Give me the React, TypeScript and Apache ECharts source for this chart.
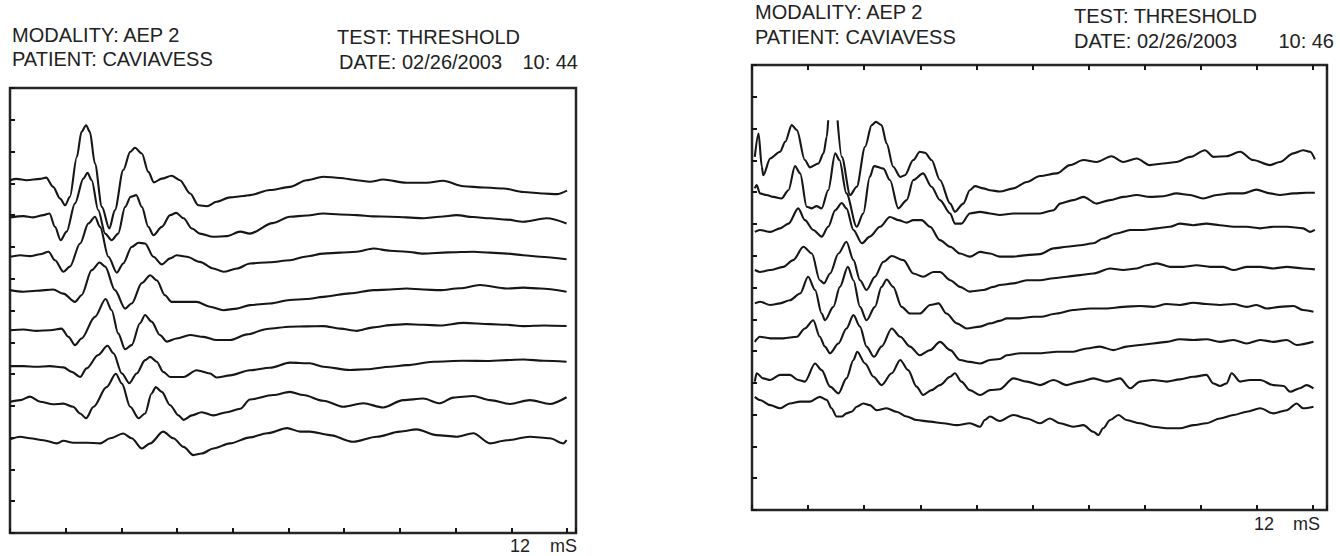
import React, { useEffect, useRef } from "react";
import * as echarts from "echarts";

// ---- header texts ----
const MODALITY = "MODALITY: AEP 2";
const PATIENT = "PATIENT: CAVIAVESS";
const TEST = "TEST: THRESHOLD";
const DATE = "DATE: 02/26/2003";
const TIME_LEFT = "10: 44";
const TIME_RIGHT = "10: 46";
const AXIS_END = "12";
const AXIS_UNIT = "mS";

// ---- left panel traces (x: ms, y: display units) ----
const L1 = [[0,11.10],[0.14,11.14],[0.36,11.10],[0.65,11.14],[0.78,11.18],[0.93,10.89],[1.08,10.52],[1.19,10.31],[1.29,10.58],[1.44,11.83],[1.54,12.62],[1.64,12.83],[1.72,12.62],[1.83,11.62],[1.98,10.26],[2.14,9.58],[2.26,10.16],[2.44,11.42],[2.59,11.99],[2.69,12.12],[2.84,11.94],[2.98,11.36],[3.10,11.03],[3.27,11.15],[3.48,11.24],[3.66,11.10],[3.88,10.68],[4.06,10.31],[4.24,10.28],[4.45,10.42],[4.74,10.56],[5.03,10.60],[5.17,10.63],[5.6,10.79],[6.03,10.89],[6.39,11.10],[6.75,11.21],[7.11,11.17],[7.47,11.10],[7.75,11.05],[8.04,11.12],[8.54,11.02],[8.98,11.02],[9.33,11.08],[9.77,10.91],[10.20,10.87],[10.63,10.84],[11.06,10.73],[11.49,10.68],[11.78,10.66],[12.0,10.77]];
const L2 = [[0,9.93],[0.29,9.97],[0.50,9.93],[0.72,10.0],[0.85,10.05],[0.97,9.63],[1.09,9.21],[1.22,9.48],[1.40,10.37],[1.58,11.15],[1.67,11.33],[1.76,11.10],[1.90,10.16],[2.05,9.42],[2.19,9.21],[2.33,9.42],[2.48,10.26],[2.60,10.58],[2.72,10.63],[2.84,10.26],[2.98,9.63],[3.09,9.37],[3.27,9.63],[3.45,10.0],[3.58,10.07],[3.74,9.90],[3.92,9.58],[4.09,9.42],[4.38,9.32],[4.67,9.34],[4.96,9.48],[5.17,9.42],[5.66,9.75],[6.03,9.95],[6.39,9.99],[6.75,10.05],[7.11,10.02],[7.47,10.0],[7.83,9.96],[8.19,9.95],[8.54,9.93],[8.90,9.90],[9.26,9.95],[9.62,10.0],[9.98,9.94],[10.34,9.90],[10.70,9.86],[11.06,9.79],[11.56,9.90],[11.99,9.74]];
const L3 = [[0,8.69],[0.22,8.74],[0.43,8.71],[0.65,8.77],[0.83,8.85],[0.97,8.58],[1.15,8.22],[1.29,8.38],[1.51,9.11],[1.69,9.74],[1.83,9.95],[1.94,9.63],[2.12,8.69],[2.30,8.19],[2.44,8.48],[2.62,9.00],[2.77,9.13],[2.91,9.11],[3.09,8.69],[3.27,8.45],[3.45,8.64],[3.59,8.74],[3.81,8.69],[4.09,8.53],[4.38,8.32],[4.60,8.22],[4.89,8.32],[5.17,8.48],[5.6,8.52],[6.03,8.58],[6.39,8.70],[6.75,8.79],[7.11,8.82],[7.47,8.85],[7.83,8.95],[8.19,8.88],[8.54,8.85],[8.90,8.79],[9.44,8.83],[9.98,8.85],[10.34,8.82],[10.70,8.79],[11.06,8.74],[11.42,8.69],[11.99,8.61]];
const L4 = [[0,7.64],[0.29,7.59],[0.57,7.62],[0.93,7.66],[1.15,7.53],[1.40,7.27],[1.54,7.48],[1.76,8.27],[1.93,8.51],[2.05,8.38],[2.26,7.64],[2.48,7.06],[2.62,7.22],[2.84,7.86],[3.02,8.11],[3.16,7.95],[3.34,7.48],[3.48,7.27],[3.74,7.27],[4.02,7.27],[4.31,7.12],[4.60,7.01],[4.89,7.06],[5.17,7.17],[5.6,7.22],[6.03,7.33],[6.39,7.36],[6.75,7.43],[7.32,7.54],[7.83,7.64],[8.19,7.66],[8.54,7.69],[8.90,7.66],[9.26,7.64],[9.69,7.70],[10.12,7.80],[10.70,7.69],[11.06,7.72],[11.42,7.69],[11.99,7.59]];
const L5 = [[0,6.38],[0.29,6.40],[0.57,6.36],[0.86,6.38],[1.11,6.43],[1.26,6.17],[1.40,5.91],[1.54,6.12],[1.83,6.80],[2.06,7.36],[2.19,7.01],[2.33,6.28],[2.48,5.78],[2.62,5.91],[2.80,6.60],[2.91,6.86],[3.05,6.65],[3.23,6.23],[3.38,6.02],[3.59,6.12],[3.88,6.23],[4.17,6.17],[4.45,6.07],[4.74,6.07],[5.11,6.25],[5.54,6.42],[6.03,6.49],[6.39,6.50],[6.75,6.51],[7.11,6.43],[7.47,6.36],[7.83,6.47],[8.19,6.54],[8.54,6.57],[8.90,6.55],[9.26,6.53],[9.77,6.61],[10.34,6.57],[10.70,6.55],[11.06,6.51],[11.50,6.53],[11.99,6.51]];
const L6 = [[0,5.25],[0.29,5.25],[0.57,5.23],[0.86,5.25],[1.15,5.21],[1.33,5.07],[1.51,4.91],[1.65,5.18],[1.90,5.60],[2.10,5.89],[2.23,5.65],[2.41,5.02],[2.57,4.71],[2.73,5.02],[2.91,5.44],[3.02,5.54],[3.16,5.39],[3.30,5.07],[3.45,4.91],[3.74,4.91],[4.02,5.12],[4.31,5.02],[4.45,4.89],[4.74,4.96],[5.17,5.12],[5.6,5.2],[6.03,5.36],[6.46,5.34],[6.75,5.23],[7.32,5.13],[7.68,5.15],[8.19,5.23],[8.54,5.28],[9.12,5.39],[9.77,5.42],[10.34,5.41],[10.70,5.44],[11.06,5.46],[11.50,5.42],[11.99,5.39]];
const L7 = [[0,4.13],[0.22,4.18],[0.43,4.29],[0.65,4.13],[0.93,4.05],[1.15,4.07],[1.36,3.97],[1.51,3.76],[1.64,3.61],[1.80,3.97],[2.08,4.59],[2.28,5.01],[2.41,4.70],[2.59,3.97],[2.77,3.61],[2.91,3.76],[3.05,4.39],[3.14,4.59],[3.27,4.44],[3.45,4.02],[3.63,3.70],[3.74,3.56],[3.92,3.70],[4.13,3.80],[4.38,3.70],[4.67,3.80],[4.96,3.91],[5.17,4.2],[5.67,4.34],[6.03,4.44],[6.32,4.34],[6.75,4.16],[7.18,3.97],[7.61,4.08],[8.04,3.95],[8.47,4.18],[8.90,4.23],[9.26,4.08],[9.55,4.26],[9.98,4.31],[10.34,4.18],[10.77,4.06],[11.20,4.18],[11.63,4.06],[11.99,4.27]];
const L8 = [[0,2.95],[0.22,3.03],[0.43,2.98],[0.72,2.92],[1.01,2.82],[1.15,2.90],[1.36,2.84],[1.65,2.84],[1.94,2.82],[2.16,2.98],[2.44,3.13],[2.62,2.98],[2.84,2.66],[3.02,2.82],[3.30,3.19],[3.52,2.98],[3.74,2.71],[3.95,2.45],[4.13,2.50],[4.38,2.66],[4.74,2.82],[5.17,3.01],[5.54,3.14],[5.97,3.30],[6.25,3.19],[6.46,3.19],[6.89,3.08],[7.39,2.87],[7.90,3.03],[8.40,3.19],[8.76,3.26],[9.19,3.08],[9.62,3.03],[9.98,3.14],[10.34,2.82],[10.70,2.92],[11.20,3.03],[11.63,2.98],[11.92,2.82],[11.99,2.92]];

// ---- right panel traces ----
const R1 = [[0.06,11.11],[0.14,11.84],[0.21,10.80],[0.24,10.53],[0.39,11.06],[0.60,11.27],[0.71,11.58],[0.85,12.11],[0.96,11.95],[1.13,11.01],[1.24,10.78],[1.42,10.90],[1.53,11.22],[1.60,11.74],[1.63,12.26],[1.73,"-"],[1.83,12.26],[1.92,11.11],[2.10,9.91],[2.24,10.17],[2.42,11.43],[2.56,12.11],[2.65,12.21],[2.77,12.11],[2.88,11.53],[3.02,10.80],[3.17,10.48],[3.27,10.53],[3.45,11.01],[3.59,11.27],[3.70,11.24],[3.84,11.01],[4.02,10.38],[4.24,9.64],[4.34,9.38],[4.52,9.64],[4.66,10.06],[4.77,10.19],[4.95,10.12],[5.09,10.06],[5.30,10.02],[5.59,10.12],[5.88,10.32],[6.16,10.51],[6.52,10.59],[6.80,10.85],[7.09,11.01],[7.37,10.95],[7.69,11.13],[7.94,10.95],[8.23,11.06],[8.51,10.85],[8.80,10.90],[9.08,10.95],[9.37,11.11],[9.69,11.32],[9.87,11.11],[10.15,11.13],[10.44,11.27],[10.72,11.01],[11.08,10.85],[11.29,10.95],[11.58,11.22],[11.79,11.32],[11.94,11.27],[12.04,11.03]];
const R2 = [[0.06,10.12],[0.10,10.22],[0.17,9.96],[0.31,9.91],[0.46,9.85],[0.63,9.80],[0.78,10.06],[0.92,10.82],[1.03,10.59],[1.17,9.54],[1.28,9.49],[1.38,9.56],[1.49,9.49],[1.63,10.06],[1.78,11.22],[1.87,11.01],[2.02,9.96],[2.24,8.91],[2.38,9.33],[2.52,10.48],[2.61,10.82],[2.81,10.74],[2.95,10.38],[3.13,9.49],[3.31,9.75],[3.45,10.38],[3.66,10.59],[3.84,10.17],[4.02,9.75],[4.24,9.33],[4.34,9.01],[4.48,9.01],[4.66,9.33],[4.88,9.38],[5.09,9.33],[5.30,9.28],[5.59,9.33],[5.88,9.33],[6.16,9.33],[6.45,9.43],[6.59,9.64],[6.87,9.75],[7.09,9.85],[7.37,9.64],[7.66,9.75],[7.94,9.85],[8.23,9.91],[8.51,9.85],[8.80,9.87],[9.08,9.96],[9.37,9.91],[9.65,9.80],[9.94,9.91],[10.22,9.96],[10.51,9.96],[10.79,10.08],[11.08,9.96],[11.29,9.91],[11.58,9.96],[11.86,9.98],[12.04,9.98]];
const R3 = [[0.06,8.75],[0.17,8.81],[0.39,8.75],[0.60,8.86],[0.78,9.01],[0.99,9.49],[1.13,9.12],[1.31,8.81],[1.49,8.60],[1.63,8.91],[1.78,9.43],[1.92,9.66],[2.02,9.49],[2.17,8.81],[2.35,8.39],[2.52,8.60],[2.74,8.91],[2.95,9.22],[3.13,9.12],[3.31,9.04],[3.45,9.12],[3.63,9.12],[3.81,8.91],[4.02,8.49],[4.24,8.28],[4.45,8.07],[4.66,7.97],[4.88,8.12],[5.09,8.07],[5.30,7.97],[5.59,7.97],[5.88,8.02],[6.16,8.05],[6.45,8.23],[6.73,8.28],[7.02,8.33],[7.30,8.39],[7.51,8.54],[7.80,8.70],[8.09,8.81],[8.37,8.81],[8.66,8.86],[8.94,8.91],[9.15,9.01],[9.44,8.96],[9.72,9.01],[10.01,8.96],[10.30,8.91],[10.58,8.91],[10.87,8.86],[11.15,8.91],[11.44,8.91],[11.79,8.86],[11.94,8.75],[12.04,8.81]];
const R4 = [[0.06,7.55],[0.17,7.49],[0.39,7.55],[0.67,7.65],[0.88,7.86],[1.10,8.28],[1.28,8.07],[1.45,7.23],[1.54,7.13],[1.67,7.44],[1.85,8.07],[2.02,8.44],[2.17,7.86],[2.31,7.23],[2.45,6.92],[2.63,7.34],[2.81,7.81],[2.99,7.99],[3.24,7.86],[3.45,7.44],[3.66,7.34],[3.88,7.49],[4.02,7.49],[4.24,7.23],[4.45,7.02],[4.66,6.87],[4.95,6.92],[5.16,7.02],[5.30,7.08],[5.59,7.13],[5.88,7.23],[6.16,7.23],[6.45,7.29],[6.73,7.34],[7.02,7.39],[7.30,7.44],[7.66,7.60],[7.94,7.55],[8.23,7.60],[8.44,7.70],[8.66,7.76],[8.94,7.65],[9.23,7.65],[9.51,7.70],[9.80,7.65],[10.08,7.65],[10.30,7.55],[10.58,7.65],[10.87,7.65],[11.15,7.60],[11.44,7.65],[11.79,7.60],[12.04,7.57]];
const R5 = [[0.06,6.50],[0.17,6.55],[0.39,6.45],[0.60,6.50],[0.81,6.60],[1.03,6.81],[1.20,7.34],[1.35,6.92],[1.49,6.18],[1.56,5.97],[1.74,6.39],[1.88,7.02],[2.05,7.65],[2.17,7.23],[2.31,6.39],[2.45,5.97],[2.63,6.39],[2.77,7.02],[2.88,7.25],[3.02,7.02],[3.20,6.39],[3.38,6.18],[3.59,6.18],[3.81,6.45],[3.99,6.50],[4.16,6.18],[4.38,5.87],[4.59,5.71],[4.88,5.77],[5.09,5.87],[5.30,5.95],[5.45,6.03],[5.73,6.03],[6.02,6.08],[6.16,6.08],[6.52,6.18],[6.87,6.29],[7.23,6.34],[7.59,6.34],[7.94,6.39],[8.30,6.42],[8.58,6.39],[8.87,6.48],[9.15,6.45],[9.44,6.52],[9.72,6.48],[10.01,6.45],[10.30,6.48],[10.58,6.39],[10.79,6.45],[11.01,6.34],[11.29,6.39],[11.58,6.42],[11.79,6.29],[12.01,6.24]];
const R6 = [[0.06,5.29],[0.17,5.45],[0.39,5.40],[0.67,5.40],[0.96,5.45],[1.13,5.71],[1.31,5.97],[1.45,5.45],[1.56,5.14],[1.67,4.93],[1.85,5.24],[2.02,5.71],[2.17,6.13],[2.31,5.77],[2.45,5.14],[2.61,4.82],[2.77,5.14],[2.99,5.71],[3.17,5.45],[3.38,5.14],[3.59,4.87],[3.81,5.03],[4.02,5.29],[4.24,5.03],[4.45,4.72],[4.66,4.66],[4.88,4.61],[5.09,4.72],[5.30,4.75],[5.45,4.87],[5.73,4.93],[6.02,4.93],[6.16,4.93],[6.52,4.98],[6.87,4.98],[7.16,5.08],[7.44,5.14],[7.73,5.03],[8.01,5.14],[8.30,5.19],[8.58,5.24],[8.87,5.29],[9.15,5.37],[9.44,5.35],[9.72,5.37],[10.01,5.29],[10.30,5.35],[10.58,5.24],[10.87,5.35],[11.15,5.29],[11.44,5.35],[11.65,5.19],[12.01,5.29]];
const R7 = [[0.06,4.04],[0.10,4.30],[0.24,4.14],[0.39,4.09],[0.60,4.25],[0.81,4.25],[0.99,4.09],[1.13,4.04],[1.35,4.61],[1.49,4.40],[1.67,3.88],[1.85,3.67],[2.02,4.14],[2.17,4.72],[2.25,4.98],[2.42,4.61],[2.60,4.19],[2.77,3.93],[2.99,4.30],[3.17,4.72],[3.34,4.40],[3.52,3.88],[3.66,3.62],[3.84,3.77],[4.02,3.93],[4.24,4.19],[4.34,4.30],[4.48,4.04],[4.66,3.77],[4.88,3.62],[5.09,3.77],[5.30,3.80],[5.59,4.14],[5.88,4.04],[6.16,3.93],[6.45,4.09],[6.73,3.93],[7.02,4.04],[7.30,4.14],[7.59,4.04],[7.87,4.14],[8.09,3.83],[8.30,4.04],[8.58,4.09],[8.87,4.04],[9.15,4.11],[9.44,4.19],[9.72,4.25],[9.87,3.98],[10.01,3.90],[10.15,3.98],[10.26,4.30],[10.44,4.04],[10.65,4.09],[10.87,4.09],[11.15,3.93],[11.37,3.90],[11.51,3.72],[11.72,3.83],[11.86,3.93],[12.01,3.83]];
const R8 = [[0.06,3.56],[0.17,3.46],[0.39,3.30],[0.60,3.20],[0.81,3.35],[1.03,3.41],[1.24,3.41],[1.45,3.56],[1.60,3.46],[1.70,3.20],[1.81,2.94],[1.92,2.94],[2.02,3.04],[2.13,3.09],[2.24,3.25],[2.38,3.35],[2.52,3.30],[2.67,3.14],[2.88,3.20],[3.09,3.09],[3.31,2.94],[3.52,2.83],[3.81,2.78],[4.09,2.73],[4.38,2.67],[4.66,2.73],[4.88,2.62],[4.98,2.83],[5.09,2.94],[5.30,2.80],[5.59,2.99],[5.88,2.88],[6.16,2.73],[6.37,2.88],[6.59,2.73],[6.87,2.62],[7.09,2.67],[7.30,2.46],[7.41,2.36],[7.51,2.57],[7.66,2.83],[7.84,2.99],[8.01,2.83],[8.30,2.73],[8.58,2.62],[8.87,2.57],[9.15,2.57],[9.44,2.67],[9.72,2.73],[10.01,2.88],[10.30,2.99],[10.58,3.09],[10.87,3.20],[11.15,3.04],[11.44,3.14],[11.65,3.35],[11.79,3.20],[12.01,3.25]];

const LEFT_TRACES = [L1, L2, L3, L4, L5, L6, L7, L8];
const RIGHT_TRACES = [R1, R2, R3, R4, R5, R6, R7, R8];

// axis scales
const X_TICK = 1.2; // ms per division
const Y_MAX = 14;

const INK = "#161616";
const FONT = '"Liberation Sans", Arial, Helvetica, sans-serif';

// layout
const LG = { left: 10, top: 88, width: 566, height: 445 };
const RG = { left: 752, top: 65, width: 575, height: 445 };

function txt(text: string, x: number, y: number, size: number, align = "left") {
  return {
    type: "text",
    x,
    y,
    silent: true,
    style: {
      text,
      fill: "#222",
      font: `${size}px ${FONT}`,
      align,
      verticalAlign: "middle",
      textAlign: align,
      textVerticalAlign: "middle",
    },
  };
}

function xAxisCfg(gridIndex: number, max: number, position: string) {
  return {
    type: "value",
    gridIndex,
    position,
    min: 0,
    max,
    interval: X_TICK,
    axisLine: { show: false },
    axisTick: { show: true, inside: true, length: 5, lineStyle: { color: INK, width: 2 } },
    axisLabel: { show: false },
    splitLine: { show: false },
  };
}

function yAxisCfg(gridIndex: number) {
  return {
    type: "value",
    gridIndex,
    min: 0,
    max: Y_MAX,
    interval: 1,
    axisLine: { show: false },
    axisTick: { show: true, inside: true, length: 5, lineStyle: { color: INK, width: 2 } },
    axisLabel: { show: false },
    splitLine: { show: false },
  };
}

export default function App() {
  const ref = useRef<HTMLDivElement>(null);
  useEffect(() => {
    if (!ref.current) return;
    const chart = echarts.init(ref.current, undefined, { renderer: "svg" });
    const lMax = LG.width / 46.42;
    const rMax = RG.width / 46.75;
    const series: any[] = [];
    const lineBase = {
      type: "line",
      showSymbol: false,
      symbol: "none",
      connectNulls: false,
      clip: true,
      silent: true,
      smooth: 0.3,
      smoothMonotone: "x",
      lineStyle: { color: INK, width: 2.1, join: "round" },
    };
    LEFT_TRACES.forEach((d, i) => {
      series.push({ ...lineBase, name: "L" + (i + 1), xAxisIndex: 0, yAxisIndex: 0, data: d });
    });
    RIGHT_TRACES.forEach((d, i) => {
      series.push({ ...lineBase, name: "R" + (i + 1), xAxisIndex: 1, yAxisIndex: 1, data: d });
    });
    chart.setOption({
      animation: false,
      backgroundColor: "#fff",
      grid: [
        { ...LG, show: true, borderColor: "#262626", borderWidth: 2.5, backgroundColor: "transparent", containLabel: false },
        { ...RG, show: true, borderColor: "#262626", borderWidth: 2.5, backgroundColor: "transparent", containLabel: false },
      ],
      xAxis: [xAxisCfg(0, lMax, "bottom"), xAxisCfg(1, rMax, "bottom"), xAxisCfg(1, rMax, "top")],
      yAxis: [yAxisCfg(0), yAxisCfg(1)],
      series,
      graphic: [
        txt(MODALITY, 12, 35, 20),
        txt(PATIENT, 12, 59, 20),
        txt(TEST, 337, 37, 20),
        txt(DATE, 339, 62, 20),
        txt(TIME_LEFT, 578, 62, 20, "right"),
        txt(AXIS_END, 520, 546, 18, "center"),
        txt(AXIS_UNIT, 550, 546, 18),
        txt(MODALITY, 755, 12, 20),
        txt(PATIENT, 755, 37, 20),
        txt(TEST, 1074, 16, 20),
        txt(DATE, 1074, 41, 20),
        txt(TIME_RIGHT, 1334, 41, 20, "right"),
        txt(AXIS_END, 1264, 524, 18, "center"),
        txt(AXIS_UNIT, 1293, 524, 18),
      ],
    });
    return () => chart.dispose();
  }, []);
  return (
    <div
      ref={ref}
      style={{ position: "fixed", left: 0, top: 0, width: 1340, height: 556, background: "#fff" }}
    />
  );
}
